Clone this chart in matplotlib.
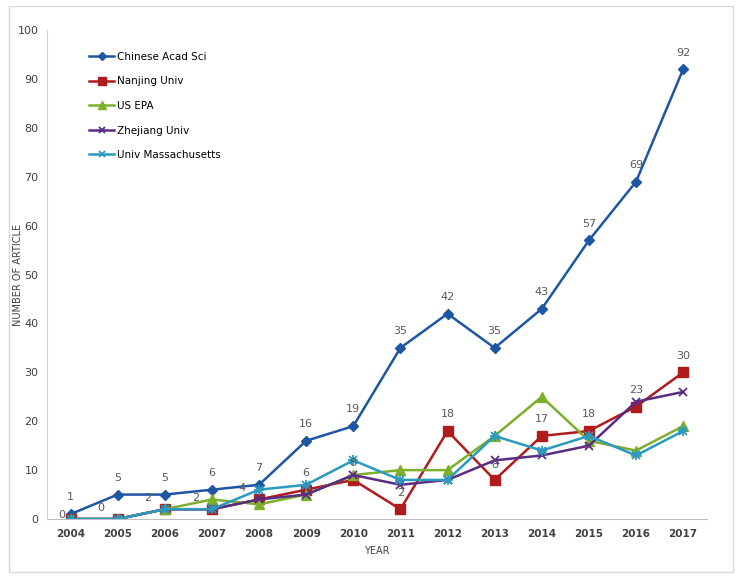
import matplotlib.pyplot as plt
from matplotlib.patches import Rectangle

years = [str(y) for y in range(2004, 2018)]
cas = [1, 5, 5, 6, 7, 16, 19, 35, 42, 35, 43, 57, 69, 92]
nanjing = [0, 0, 2, 2, 4, 6, 8, 2, 18, 8, 17, 18, 23, 30]
epa = [0, 0, 2, 4, 3, 5, 9, 10, 10, 17, 25, 16, 14, 19]
zhejiang = [0, 0, 2, 2, 4, 5, 9, 7, 8, 12, 13, 15, 24, 26]
umass = [0, 0, 2, 2, 6, 7, 12, 8, 8, 17, 14, 17, 13, 18]

fig = plt.figure(figsize=(7.4, 5.81), dpi=100)
ax = fig.add_axes([0.0635, 0.1067, 0.8915, 0.8413])

x = list(range(len(years)))
ax.plot(x, cas, color='#1D56A3', lw=1.8, marker='D', ms=5, label='Chinese Acad Sci')
ax.plot(x, nanjing, color='#B01B1B', lw=1.8, marker='s', ms=6.5, label='Nanjing Univ')
ax.plot(x, epa, color='#7DAF2A', lw=1.8, marker='^', ms=6.5, label='US EPA')
ax.plot(x, zhejiang, color='#5A2D84', lw=1.8, marker='x', ms=6, mew=1.3, label='Zhejiang Univ')
ax.plot(x, umass, color='#2A9BBF', lw=1.8, marker='x', ms=6, mew=1.3, label='Univ Massachusetts')
ax.plot(x, umass, color='#2A9BBF', lw=0, marker='+', ms=7, mew=1.3)

lab = dict(fontsize=8, color='#595959', ha='center', va='center', textcoords='offset points')
for i, v in enumerate(cas):
    ax.annotate(str(v), (i, v), xytext=(0, 12), **lab)
nj_off = [(-6, 3), (-12, 8), (-12, 8), (-12, 8), (-12, 8), (0, 12), (0, 12),
          (0, 12), (0, 12), (0, 11), (0, 12), (0, 12), (0, 12), (0, 12)]
for i, v in enumerate(nanjing):
    ax.annotate(str(v), (i, v), xytext=nj_off[i], **lab)

ax.set_xlim(-0.5, 13.5)
ax.set_ylim(0, 100)
ax.set_yticks(range(0, 101, 10))
ax.set_xticks(x)
ax.set_xticklabels(years, fontsize=7.5, color='#404040', fontweight='bold')
ax.tick_params(axis='y', labelsize=8, labelcolor='#404040', length=0, pad=6)
ax.tick_params(axis='x', length=0, pad=7)
for s in ['top', 'right']:
    ax.spines[s].set_visible(False)
ax.spines['left'].set_color('#D0D0D0')
ax.spines['bottom'].set_color('#BFBFBF')

ax.set_ylabel('NUMBER OF ARTICLE', fontsize=7, color='#404040')
ax.yaxis.set_label_coords(-0.037, 0.5)
ax.set_xlabel('YEAR', fontsize=7, color='#404040', labelpad=5)

ax.legend(loc='upper left', bbox_to_anchor=(0.05, 0.975), frameon=False, fontsize=7.5,
          labelspacing=1.4, handlelength=2.4, handletextpad=0.3, markerscale=0.8)

fig.patches.append(Rectangle((9 / 740, 1 - 572 / 581), 724 / 740, 566 / 581,
                             transform=fig.transFigure, fill=False, ec='#D9D9D9', lw=1))

fig.savefig('out.png', dpi=100)
